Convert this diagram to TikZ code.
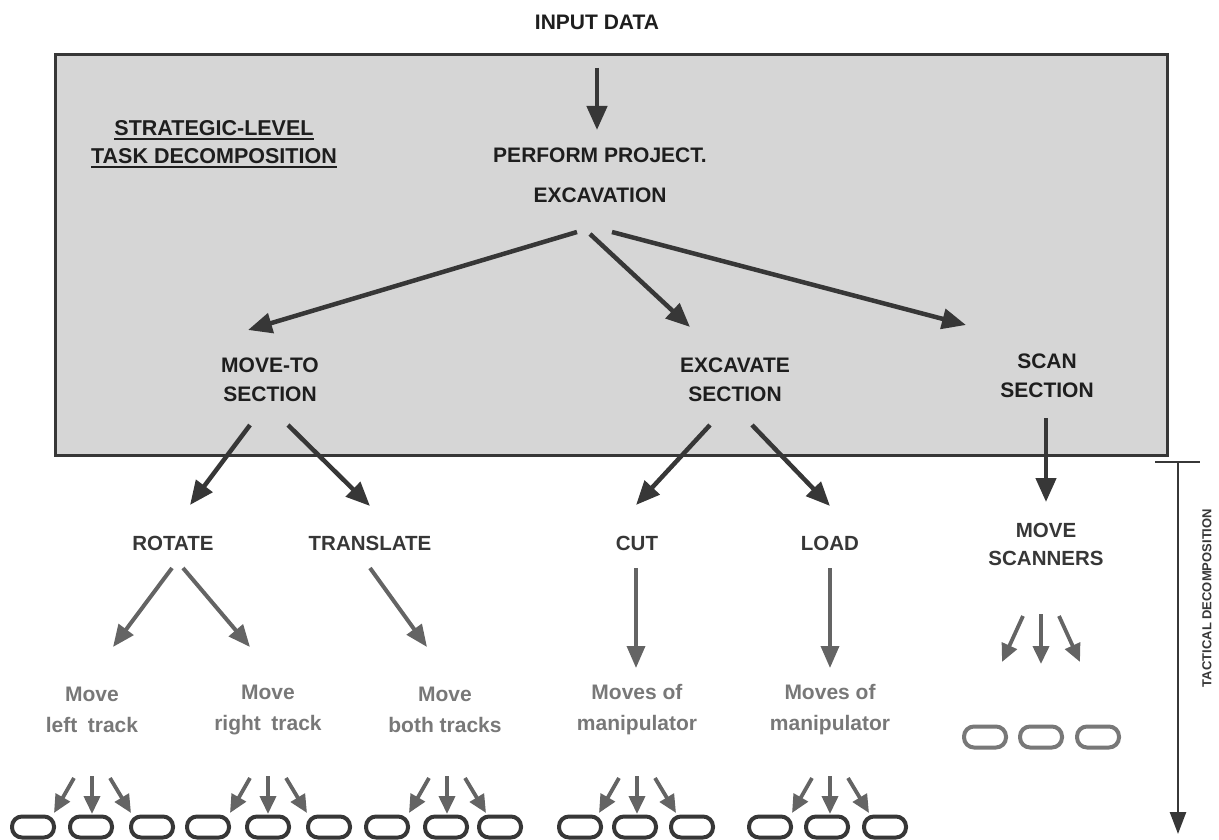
\documentclass[tikz,border=0pt]{standalone}
\usepackage{fontspec}
\setmainfont{Liberation Sans}
\usetikzlibrary{arrows.meta}
\definecolor{boxfill}{RGB}{214,214,214}
\definecolor{dk}{RGB}{55,55,55}
\definecolor{tx}{RGB}{30,30,30}
\definecolor{md}{RGB}{100,100,100}
\definecolor{lt}{RGB}{120,120,120}
\newcommand\thickul[1]{\setbox0\hbox{#1}\leavevmode\rlap{\vrule height -2.5pt depth 5pt width \wd0}\box0}
\begin{document}
\begin{tikzpicture}[x=1pt,y=-1pt,
  lvl/.style={inner sep=0pt, align=center, text=tx, font=\fontsize{21}{29}\selectfont\bfseries},
  lvlthree/.style={inner sep=0pt, align=center, text=dk, font=\fontsize{20.5}{28}\selectfont\bfseries},
  lvlfour/.style={inner sep=0pt, align=center, text=lt, font=\fontsize{21}{31}\selectfont\bfseries},
  bigarrow/.style={draw=dk, line width=4.5pt, -{Triangle[length=24pt,width=20pt]}},
  grayarrow/.style={draw=md, line width=4pt, -{Triangle[length=22pt,width=18pt]}},
  smallarrow/.style={draw=md, line width=3.8pt, -{Triangle[length=18pt,width=16pt]}},
  oval/.style={draw=dk, line width=4pt, rectangle, rounded corners=10pt, minimum width=42pt, minimum height=21pt, inner sep=0pt},
  ovallt/.style={oval, draw=lt},
]
\useasboundingbox (0,0) rectangle (1219,840);

% strategic box
\draw[line width=3pt, draw=dk, fill=boxfill] (55,55) rectangle (1167,455);

% texts
\node[lvl] (inp) at (597,22) {INPUT DATA};
\node[inner sep=0pt, align=center, text=tx, font=\fontsize{21.5}{28}\selectfont\bfseries] (strat) at (214,144)
  {\thickul{STRATEGIC-LEVEL}\\\thickul{TASK DECOMPOSITION}};
\node[lvl, font=\fontsize{21}{40}\selectfont\bfseries] (perf) at (600,175) {PERFORM PROJECT.\\EXCAVATION};
\node[lvl] (moveto) at (270,380) {MOVE-TO\\SECTION};
\node[lvl] (excav) at (735,380) {EXCAVATE\\SECTION};
\node[lvl] (scan) at (1047,376) {SCAN\\SECTION};

\node[lvlthree] (rot) at (173,543) {ROTATE};
\node[lvlthree] (trans) at (370,543) {TRANSLATE};
\node[lvlthree] (cut) at (637,543) {CUT};
\node[lvlthree] (load) at (830,543) {LOAD};
\node[lvlthree] (movsc) at (1046,544) {MOVE\\SCANNERS};

\node[lvlfour] (mlt) at (92,710) {Move\\left\enspace track};
\node[lvlfour] (mrt) at (268,710) {Move\\right\enspace track};
\node[lvlfour] (mbt) at (445,710) {Move\\both tracks};
\node[lvlfour] (mm1) at (637,710) {Moves of\\manipulator};
\node[lvlfour] (mm2) at (830,710) {Moves of\\manipulator};

\node[rotate=90, inner sep=0pt, text=dk, font=\fontsize{13}{15}\selectfont\bfseries] (tact) at (1207,598) {TACTICAL DECOMPOSITION};

% arrow end points
\coordinate (inpA) at (597,68);   \coordinate (perfB) at (597,130);
\coordinate (p1) at (577,232);    \coordinate (mt) at (248,330);
\coordinate (p2) at (590,234);    \coordinate (ex) at (690,327);
\coordinate (p3) at (612,232);    \coordinate (sc) at (966,325);
\coordinate (m1) at (250,425);    \coordinate (ro) at (190,505);
\coordinate (m2) at (288,425);    \coordinate (tr) at (370,506);
\coordinate (e1) at (710,425);    \coordinate (cu) at (636,505);
\coordinate (e2) at (752,425);    \coordinate (lo) at (830,506);
\coordinate (s0) at (1046,418);   \coordinate (ms) at (1046,502);
\coordinate (r1) at (172,568);    \coordinate (lt) at (113,647);
\coordinate (r2) at (183,568);    \coordinate (rt) at (250,647);
\coordinate (t1) at (370,568);    \coordinate (bt) at (427,647);
\coordinate (c1) at (636,568);    \coordinate (mA) at (636,668);
\coordinate (l1) at (830,568);    \coordinate (mB) at (830,668);

\draw[bigarrow] (inpA) -- (perfB);
\draw[bigarrow] (p1) -- (mt);
\draw[bigarrow] (p2) -- (ex);
\draw[bigarrow] (p3) -- (sc);
\draw[bigarrow] (m1) -- (ro);
\draw[bigarrow] (m2) -- (tr);
\draw[bigarrow] (e1) -- (cu);
\draw[bigarrow] (e2) -- (lo);
\draw[bigarrow] (s0) -- (ms);
\draw[grayarrow] (r1) -- (lt);
\draw[grayarrow] (r2) -- (rt);
\draw[grayarrow] (t1) -- (bt);
\draw[grayarrow, line width=3.5pt] (c1) -- (mA);
\draw[grayarrow, line width=3.5pt] (l1) -- (mB);

% triplets under level-4 nodes
\foreach \c/\n in {92/a,268/b,447/c,637/d,830/e}{
  \coordinate (\n Ls) at (\c-18,778); \coordinate (\n Le) at (\c-38,813);
  \coordinate (\n Ms) at (\c,776);    \coordinate (\n Me) at (\c,814);
  \coordinate (\n Rs) at (\c+18,778); \coordinate (\n Re) at (\c+39,813);
  \draw[smallarrow] (\n Ls) -- (\n Le);
  \draw[smallarrow] (\n Ms) -- (\n Me);
  \draw[smallarrow] (\n Rs) -- (\n Re);
}
% triplet under MOVE SCANNERS
\coordinate (sLs) at (1023,616); \coordinate (sLe) at (1002,662);
\coordinate (sMs) at (1041,614); \coordinate (sMe) at (1041,664);
\coordinate (sRs) at (1059,616); \coordinate (sRe) at (1080,662);
\draw[smallarrow] (sLs) -- (sLe);
\draw[smallarrow] (sMs) -- (sMe);
\draw[smallarrow] (sRs) -- (sRe);

% ovals
\foreach \x [count=\i] in {33,91,152,208,268,329,387,446,500,580,635,692,770,827,885}{
  \node[oval] (ov\i) at (\x,827) {};
}
\foreach \x [count=\i] in {985,1041,1098}{
  \node[ovallt] (so\i) at (\x,737) {};
}

% tactical decomposition bar
\coordinate (tA) at (1155,462); \coordinate (tB) at (1200,462);
\coordinate (tC) at (1178,462); \coordinate (tD) at (1178,834);
\draw[draw=dk, line width=2.5pt] (tA) -- (tB);
\draw[draw=dk, line width=2.5pt, -{Triangle[length=22pt,width=16pt]}] (tC) -- (tD);
\end{tikzpicture}
\end{document}
